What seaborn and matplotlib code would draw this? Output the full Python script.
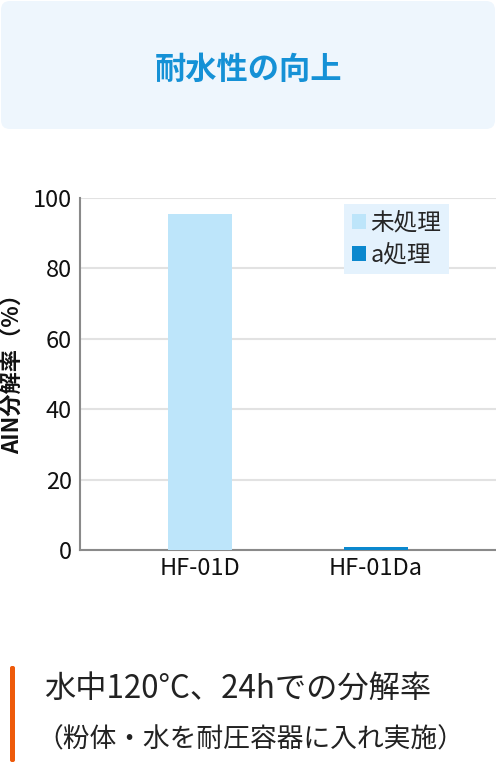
import matplotlib
matplotlib.use("Agg")
import matplotlib.pyplot as plt
import seaborn as sns
import pandas as pd
from matplotlib.patches import FancyBboxPatch

categories = ["HF-01D", "HF-01Da"]
treatments = ["未処理", "a処理"]
values = [95.5, 0.8]
y_ticks = [0, 20, 40, 60, 80, 100]

title = "耐水性の向上"
ylabel = "AIN分解率（%）"
note1 = "水中120°C、24hでの分解率"
note2 = "（粉体・水を耐圧容器に入れ実施）"

sns.set_theme(style="white")
FAM = ["Noto Sans CJK JP", "DejaVu Sans"]
plt.rcParams["font.family"] = FAM

df = pd.DataFrame({"cat": categories, "treat": treatments, "val": values})
palette = {"未処理": "#BDE5FA", "a処理": "#0B88CE"}

W, H = 496, 765
fig = plt.figure(figsize=(W / 100, H / 100), dpi=100)

# header box
box = FancyBboxPatch((1 / W, 1 - 129 / H), 494 / W, 128 / H,
                     boxstyle="round,pad=0,rounding_size=0.018",
                     transform=fig.transFigure, facecolor="#EEF6FD",
                     edgecolor="none", mutation_aspect=W / H)
fig.patches.append(box)
fig.text(0.5, 1 - 70 / H, title, ha="center", va="center", fontsize=22.5,
         fontweight="bold", color="#1591D6", family=FAM)

ax = fig.add_axes([80 / W, 1 - 550 / H, (W - 80) / W, 352 / H])
sns.barplot(data=df, x="cat", y="val", hue="treat", hue_order=treatments,
            order=categories, palette=palette, dodge=False, width=0.364,
            ax=ax, saturation=1, linewidth=0, edgecolor="none")
for p in ax.patches:
    p.set_zorder(3)
ax.set_xlim(-0.682, 1.682)
ax.set_ylim(0, 100)
ax.set_yticks(y_ticks)
ax.set_yticklabels([str(t) for t in y_ticks], fontsize=17, color="#111111")
ax.set_xticks(range(len(categories)))
ax.set_xticklabels(categories, fontsize=17, color="#111111")
ax.tick_params(axis="y", length=0, pad=6)
ax.tick_params(axis="x", length=0, pad=5)
ax.set_xlabel("")
ax.set_ylabel(ylabel, fontsize=16, fontweight="bold", color="#111111")
ax.yaxis.set_label_coords(-0.135, 0.516)
ax.yaxis.grid(True, color="#E2E2E2", linewidth=1.5)
ax.set_axisbelow(True)
for s in ["top", "right"]:
    ax.spines[s].set_visible(False)
for s in ["left", "bottom"]:
    ax.spines[s].set_color("#8A8A8A")
    ax.spines[s].set_linewidth(1.5)
    ax.spines[s].set_zorder(2)

leg = ax.legend(loc="upper left", bbox_to_anchor=((344 - 80) / (W - 80), 1 - 6 / 352),
                frameon=True, fontsize=17, handlelength=0.6, handleheight=0.6,
                handletextpad=0.2, labelspacing=0.38, borderpad=0.32,
                borderaxespad=0, fancybox=False)
leg.get_frame().set_facecolor("#E4F2FD")
leg.get_frame().set_edgecolor("none")
leg.get_frame().set_alpha(1)
leg.set_zorder(5)

# bottom note
bar = FancyBboxPatch((10 / W, 1 - 762 / H), 5 / W, 96 / H,
                     boxstyle="round,pad=0,rounding_size=0.004",
                     transform=fig.transFigure, facecolor="#EE5A0A",
                     edgecolor="none", mutation_aspect=W / H)
fig.patches.append(bar)
fig.text(44 / W, 1 - 690 / H, note1, ha="left", va="center", fontsize=22.5,
         color="#222222", family=FAM)
fig.text(36 / W, 1 - 740 / H, note2, ha="left", va="center", fontsize=19.3,
         color="#222222", family=FAM)

fig.savefig("out.png", dpi=100)
